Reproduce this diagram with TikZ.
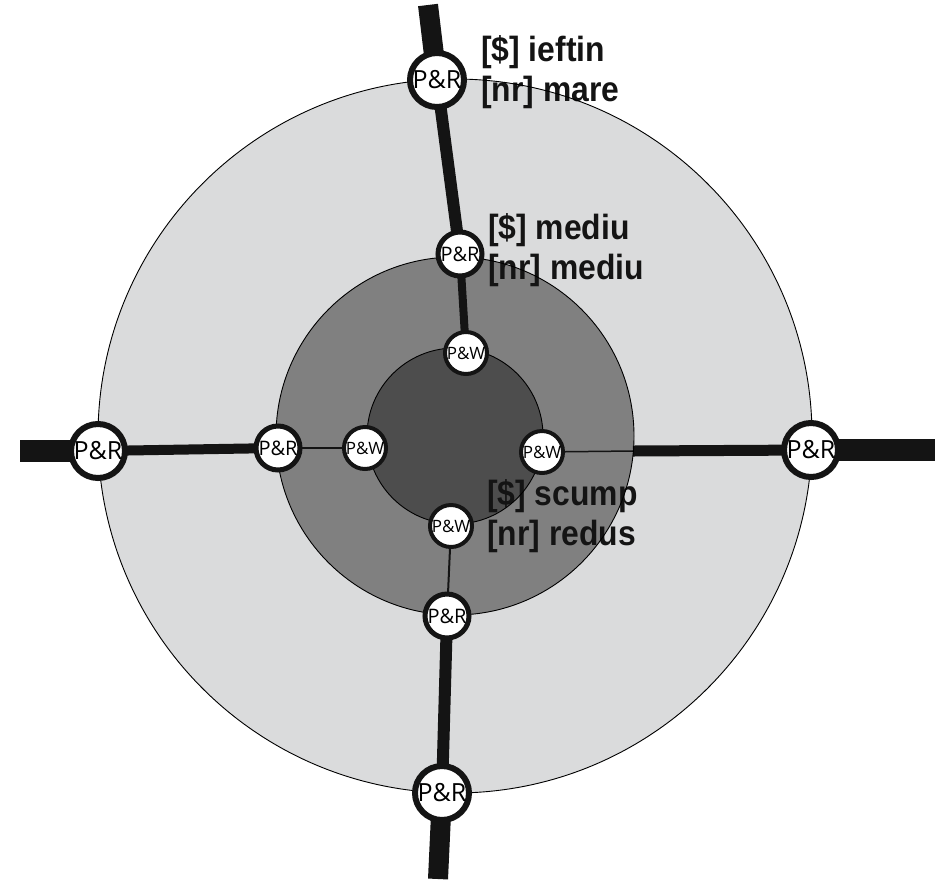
\documentclass[tikz,border=0pt]{standalone}
\usepackage{fontspec}
\setmainfont{Liberation Sans}
\newfontfamily\stationfont{Open Sans}
\newfontfamily\labelfont[FakeStretch=0.91]{Liberation Sans Bold}
\definecolor{ringlight}{RGB}{218,219,220}
\definecolor{ringmid}{RGB}{128,128,128}
\definecolor{ringdark}{RGB}{77,77,77}
\definecolor{roadblack}{RGB}{20,20,20}
\pgfdeclarelayer{zones}
\pgfdeclarelayer{roads}
\pgfdeclarelayer{outlines}
\pgfsetlayers{zones,roads,outlines,main}
\begin{document}
\begin{tikzpicture}[x=1pt,y=-1pt,
  pr/.style={circle,draw=roadblack,fill=white,inner sep=0pt},
  prbig/.style={pr,line width=6pt,minimum size=54pt,font=\stationfont\fontsize{25}{25}\selectfont},
  prmid/.style={pr,line width=5pt,minimum size=44pt,font=\stationfont\fontsize{20}{20}\selectfont},
  pw/.style={pr,line width=4pt,minimum size=42pt,font=\stationfont\fontsize{17}{17}\selectfont},
  road/.style={draw=roadblack,line width=#1},
  lbl/.style={anchor=west,align=left,font=\labelfont\fontsize{35}{40}\selectfont,text=roadblack,inner sep=0pt},
  ring/.style={draw=black,line width=0.9pt}]
\useasboundingbox (0,0) rectangle (947,879);

% stations
\node[prbig] (nO) at (437,80) {P\&R};
\node[prmid] (nM) at (460,254) {P\&R};
\node[pw] (nW) at (466,353) {P\&W};
\node[prbig] (wO) at (98,451) {P\&R};
\node[prmid] (wM) at (278,448) {P\&R};
\node[pw] (wW) at (365,448) {P\&W};
\node[pw] (eW) at (542,452) {P\&W};
\node[prbig] (eO) at (811,450) {P\&R};
\node[pw] (sW) at (451,526) {P\&W};
\node[prmid] (sM) at (447,616) {P\&R};
\node[prbig] (sO) at (442,793) {P\&R};

% road ends and the edge of the middle zone
\coordinate (c) at (455,436);
\coordinate (nEnd) at (428,5);
\coordinate (wEnd) at (20,451);
\coordinate (eEnd) at (935,450);
\coordinate (sEnd) at (438,879);
\coordinate (eEdge) at (633,451);

% concentric zones
\begin{pgfonlayer}{zones}
\fill[white] (0,0) rectangle (947,879);
\fill[ringlight] (c) circle (357);
\fill[ringmid] (c) circle (179);
\fill[ringdark] (c) circle (88);
\end{pgfonlayer}

% roads, thinning towards the centre
\begin{pgfonlayer}{roads}
\path[road=20pt] (nEnd) -- (nO.center);
\path[road=12pt] (nO.center) -- (nM.center);
\path[road=8pt] (nM.center) -- (nW.center);
\path[road=22pt] (wEnd) -- (wO.center);
\path[road=10pt] (wO.center) -- (wM.center);
\path[road=1.5pt] (wM.center) -- (wW.center);
\path[road=1.5pt] (eW.center) -- (eEdge);
\path[road=11pt] (eEdge) -- (eO.center);
\path[road=22pt] (eO.center) -- (eEnd);
\path[road=2pt] (sW.center) -- (sM.center);
\path[road=12pt] (sM.center) -- (sO.center);
\path[road=20pt] (sO.center) -- (sEnd);

% labels
\node[lbl] (tO) at (481,72) {[\$] ieftin\\{}[nr] mare};
\node[lbl] (tM) at (488,250) {[\$] mediu\\{}[nr] mediu};
\node[lbl] (tC) at (487,516) {[\$] scump\\{}[nr] redus};
\end{pgfonlayer}

% zone outlines
\begin{pgfonlayer}{outlines}
\draw[ring] (c) circle (357);
\draw[ring] (c) circle (179);
\draw[ring] (c) circle (88);
\end{pgfonlayer}
\end{tikzpicture}
\end{document}
